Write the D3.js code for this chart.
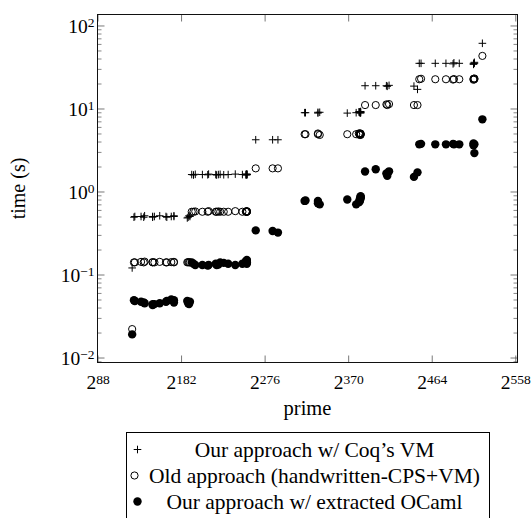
<!DOCTYPE html>
<html>
<head>
<meta charset="utf-8">
<script src="https://cdn.jsdelivr.net/npm/d3@7"></script>
<style>
  body { margin: 0; background: #fff; }
  text { font-family: "Liberation Serif", serif; fill: #000; }
</style>
</head>
<body>
<div id="chart"></div>
<script>
var svgWidth = 532;
var svgHeight = 518;
var margin = { left: 97.5, right: 14.5, top: 14.5, bottom: 155.5 };
var width = svgWidth - margin.left - margin.right;
var height = svgHeight - margin.top - margin.bottom;

// prime size (bits) per benchmark point, and timings (s) for each approach
var primeBits = [127,
  129, 130, 137, 140, 141, 150, 150, 152, 158, 165, 166, 171, 174, 174, 189, 190, 191, 192,
  194, 196, 198, 206, 212, 213, 221, 222, 224, 226, 230, 235, 243, 251, 255, 255, 256, 256, 256, 256, 256,
  266, 285, 291,
  321, 322, 336, 336, 338, 369, 379, 382, 383, 383, 383, 384, 384, 384, 384,
  389, 401, 413, 414, 416, 444, 448,
  450, 452, 468, 480, 488, 489, 495, 511, 511, 512, 512,
  521];

var coqVmTimes = [0.12,
  0.49, 0.50, 0.50, 0.49, 0.51, 0.50, 0.49, 0.50, 0.51, 0.50, 0.49, 0.50, 0.51, 0.50, 0.48, 0.49, 0.51, 0.50,
  1.60, 1.58, 1.61, 1.60, 1.59, 1.62, 1.60, 1.58, 1.60, 1.61, 1.59, 1.60, 1.62, 1.60, 1.58, 1.61, 1.60, 1.59, 1.62, 1.60, 1.61,
  4.2, 4.2, 4.2,
  8.9, 8.9, 9.0, 8.8, 9.0, 8.8, 8.9, 9.1, 9.0, 8.9, 9.1, 9.2, 9.0, 8.8, 9.0,
  18.8, 18.8, 18.8, 18.5, 19.0, 18.6, 17.0,
  35, 35, 35, 35, 34.5, 35.5, 35, 34, 35, 36, 35,
  61];

var oldTimes = [0.022,
  0.14, 0.14, 0.142, 0.14, 0.143, 0.14, 0.141, 0.14, 0.142, 0.14, 0.14, 0.141, 0.14, 0.142, 0.14, 0.141, 0.14, 0.14,
  0.57, 0.57, 0.575, 0.57, 0.57, 0.58, 0.57, 0.57, 0.575, 0.57, 0.57, 0.57, 0.58, 0.57, 0.57, 0.575, 0.57, 0.57, 0.58, 0.57, 0.575,
  1.9, 1.9, 1.9,
  4.9, 4.9, 4.9, 5.0, 4.8, 4.9, 4.9, 5.0, 4.9, 4.8, 5.0, 4.9, 5.0, 4.8, 4.9,
  11.0, 11.0, 11.2, 11.0, 11.3, 11.0, 11.0,
  22.5, 22.8, 22.5, 22.5, 22.3, 22.6, 22.5, 22.2, 22.8, 22.5, 23.0,
  43];

var ocamlTimes = [0.019,
  0.049, 0.048, 0.047, 0.046, 0.045, 0.044, 0.043, 0.044, 0.045, 0.047, 0.048, 0.050, 0.046, 0.049, 0.048, 0.045, 0.044, 0.047,
  0.14, 0.135, 0.13, 0.13, 0.128, 0.13, 0.135, 0.13, 0.132, 0.14, 0.138, 0.135, 0.13, 0.135, 0.14, 0.145, 0.14, 0.135, 0.145, 0.14, 0.15,
  0.34, 0.335, 0.32,
  0.77, 0.78, 0.77, 0.72, 0.70, 0.80, 0.70, 0.74, 0.76, 0.78, 0.80, 0.82, 0.85, 0.86, 0.88,
  1.74, 1.85, 1.65, 1.55, 1.75, 1.50, 1.70,
  3.7, 3.75, 3.7, 3.7, 3.75, 3.7, 3.7, 3.8, 3.6, 3.7, 2.9,
  7.4];

var xTicks = [88, 182, 276, 370, 464, 558];
var yTicks = [-2, -1, 0, 1, 2];
var legendLabels = ["Our approach w/ Coq\u2019s VM", "Old approach (handwritten-CPS+VM)", "Our approach w/ extracted OCaml"];

var svg = d3.select("#chart").append("svg")
  .attr("width", svgWidth)
  .attr("height", svgHeight);

svg.append("rect").attr("width", svgWidth).attr("height", svgHeight).attr("fill", "#fff");

var chartGroup = svg.append("g")
  .attr("transform", `translate(${margin.left}, ${margin.top})`);

var xScale = d3.scaleLinear().domain([88, 560.5]).range([0, width]);
var yScale = d3.scaleLog().domain([0.00871, 135.6]).range([height, 0]);

// minor ticks for the log axis
var minorTicks = [];
for (var e = -3; e <= 2; e++) {
  for (var k = 2; k <= 9; k++) {
    var v = k * Math.pow(10, e);
    if (v > yScale.domain()[0] && v < yScale.domain()[1]) minorTicks.push(v);
  }
}

var tickColor = "#555";

function supLabel(sel, base, exp) {
  sel.text(base);
  sel.append("tspan").attr("dy", "-0.42em").attr("font-size", "13.5px").text(exp);
}

// x axis bottom with labels
var xAxis = d3.axisBottom(xScale).tickValues(xTicks).tickSizeInner(-7).tickSizeOuter(0).tickPadding(13);
chartGroup.append("g")
  .attr("class", "xAxis")
  .attr("transform", "translate(0," + height + ")")
  .call(xAxis)
  .call(g => g.select(".domain").remove())
  .call(g => g.selectAll(".tick line").attr("stroke", tickColor).attr("stroke-width", 0.8))
  .call(g => g.selectAll(".tick text").attr("font-size", "19.5px").attr("font-family", "Liberation Serif")
    .each(function (d) { supLabel(d3.select(this), "2", d); }));

// x axis top, ticks only
chartGroup.append("g")
  .call(d3.axisTop(xScale).tickValues(xTicks).tickSizeInner(-7).tickSizeOuter(0).tickFormat(""))
  .call(g => g.select(".domain").remove())
  .call(g => g.selectAll(".tick line").attr("stroke", tickColor).attr("stroke-width", 0.8));

// y axis left with labels
var yAxis = d3.axisLeft(yScale).tickValues(yTicks.map(p => Math.pow(10, p))).tickSizeInner(-7).tickSizeOuter(0).tickPadding(3);
chartGroup.append("g")
  .attr("class", "yAxis")
  .call(yAxis)
  .call(g => g.select(".domain").remove())
  .call(g => g.selectAll(".tick line").attr("stroke", tickColor).attr("stroke-width", 0.8))
  .call(g => g.selectAll(".tick text").attr("font-size", "19.5px").attr("font-family", "Liberation Serif")
    .attr("dy", "0.34em")
    .each(function (d) {
      var p = Math.round(Math.log10(d));
      supLabel(d3.select(this), "10", p < 0 ? "\u2212" + (-p) : "" + p);
    }));

// y axis right, ticks only
chartGroup.append("g")
  .attr("transform", "translate(" + width + ",0)")
  .call(d3.axisRight(yScale).tickValues(yTicks.map(p => Math.pow(10, p))).tickSizeInner(-7).tickSizeOuter(0).tickFormat(""))
  .call(g => g.select(".domain").remove())
  .call(g => g.selectAll(".tick line").attr("stroke", tickColor).attr("stroke-width", 0.8));

// minor ticks left and right
chartGroup.append("g")
  .call(d3.axisLeft(yScale).tickValues(minorTicks).tickSizeInner(-4).tickSizeOuter(0).tickFormat(""))
  .call(g => g.select(".domain").remove())
  .call(g => g.selectAll(".tick line").attr("stroke", tickColor).attr("stroke-width", 0.7));
chartGroup.append("g")
  .attr("transform", "translate(" + width + ",0)")
  .call(d3.axisRight(yScale).tickValues(minorTicks).tickSizeInner(-4).tickSizeOuter(0).tickFormat(""))
  .call(g => g.select(".domain").remove())
  .call(g => g.selectAll(".tick line").attr("stroke", tickColor).attr("stroke-width", 0.7));

// frame
chartGroup.append("rect")
  .attr("width", width).attr("height", height)
  .attr("fill", "none").attr("stroke", "#111").attr("stroke-width", 1);

// series
var crossPath = "M-3.8,0H3.8M0,-3.8V3.8";

chartGroup.append("g").selectAll("path").data(primeBits).enter()
  .append("path")
  .attr("d", crossPath)
  .attr("transform", (d, i) => `translate(${xScale(d)},${yScale(coqVmTimes[i])})`)
  .attr("stroke", "#000").attr("stroke-width", 1).attr("fill", "none");

chartGroup.append("g").selectAll("circle").data(primeBits).enter()
  .append("circle")
  .attr("cx", d => xScale(d))
  .attr("cy", (d, i) => yScale(oldTimes[i]))
  .attr("r", 3.6)
  .attr("fill", "none").attr("stroke", "#000").attr("stroke-width", 1);

chartGroup.append("g").selectAll("circle").data(primeBits).enter()
  .append("circle")
  .attr("cx", d => xScale(d))
  .attr("cy", (d, i) => yScale(ocamlTimes[i]))
  .attr("r", 4.2)
  .attr("fill", "#000");

// axis labels
svg.append("text")
  .attr("transform", "translate(25," + (margin.top + height / 2) + ") rotate(-90)")
  .attr("text-anchor", "middle")
  .attr("font-size", "20px")
  .text("time (s)");

svg.append("text")
  .attr("x", margin.left + width / 2)
  .attr("y", 415)
  .attr("text-anchor", "middle")
  .attr("font-size", "20.5px")
  .text("prime");

// legend, centred under the axis
var legend = svg.append("g").attr("class", "legend");
var legendLeft = 126.5, legendRight = 489.5, legendTop = 432.5, rowH = 26;

legend.append("rect")
  .attr("x", legendLeft).attr("y", legendTop)
  .attr("width", legendRight - legendLeft).attr("height", 120)
  .attr("fill", "#fff").attr("stroke", "#000").attr("stroke-width", 1);

legendLabels.forEach(function (lab, i) {
  var cy = legendTop + 17 + i * rowH;
  var mx = legendLeft + (i === 1 ? 8 : 11);
  if (i === 0) {
    legend.append("path").attr("d", crossPath).attr("transform", `translate(${mx},${cy})`)
      .attr("stroke", "#000").attr("stroke-width", 1);
  } else if (i === 1) {
    legend.append("circle").attr("cx", mx).attr("cy", cy).attr("r", 3.6)
      .attr("fill", "none").attr("stroke", "#000");
  } else {
    legend.append("circle").attr("cx", mx).attr("cy", cy).attr("r", 4.2).attr("fill", "#000");
  }
  legend.append("text")
    .attr("x", (legendLeft + 16 + legendRight - 3) / 2)
    .attr("y", cy)
    .attr("dy", "0.33em")
    .attr("text-anchor", "middle")
    .attr("font-size", "21.5px")
    .text(lab);
});
</script>
</body>
</html>
